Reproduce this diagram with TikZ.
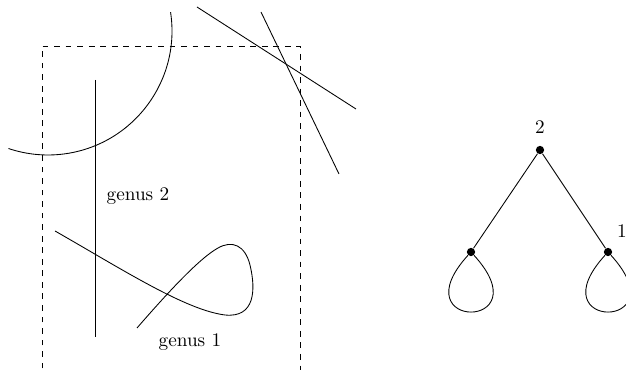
\documentclass[tikz,border=0pt]{standalone}
\usetikzlibrary{positioning}
\newcommand{\LX}{72}
\newcommand{\LY}{79}

\begin{document}
\begin{tikzpicture}[
    x=0.52pt, y=-0.52pt,
    curve/.style={draw=black, line width=0.45pt},
    frame/.style={draw=black, dashed, line width=0.45pt},
    vtx/.style={circle, fill=black, minimum size=4.3pt, inner sep=0pt},
    tag/.style={font=\normalsize, inner sep=1pt},
  ]
  \path[use as bounding box, clip] (0,0) rectangle (626,370);

  % the dashed region, open below the page edge
  \draw[frame] (42,380) |- (300,46) -- (300,380);

  % circle arc and lines
  \draw[curve] (48,31) ++(-8.7:124) arc[start angle=-8.7, end angle=108.6, radius=124];
  \draw[curve] (95,80) -- (95,337);
  \draw[curve] (197,7) -- (356,109);
  \draw[curve] (261,12) -- (339,174);

  % nodal curve
  \draw[curve] (55,231) .. controls (120,268) and (185,310) .. (225,315)
    .. controls (255,318) and (256,290) .. (250,265)
    .. controls (245,245) and (232,240) .. (218,248)
    .. controls (200,258) and (170,290) .. (137,328);

  \node[tag] (g2) at (138,196) {genus 2};
  \node[tag] (g1) at (190,342) {genus 1};

  % dual graph
  \node[vtx] (top) at (540,150) {};
  \node[vtx] (lft) at (471,252) {};
  \node[vtx] (rgt) at (608,252) {};
  \node[tag, above=5pt of top] (ntop) {2};
  \node[tag] (nrgt) at (622,231) {1};

  \draw[curve] (top) -- (lft);
  \draw[curve] (top) -- (rgt);
  \draw[curve] (lft) .. controls +(-\LX,\LY) and +(\LX,\LY) .. (lft);
  \draw[curve] (rgt) .. controls +(-\LX,\LY) and +(\LX,\LY) .. (rgt);
\end{tikzpicture}
\end{document}
